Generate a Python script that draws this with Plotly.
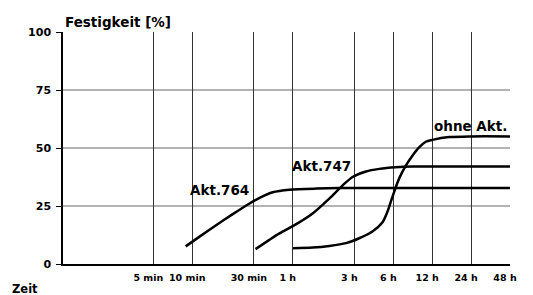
import math
import plotly.graph_objects as go

# tick positions (minutes) and labels
tick_vals = [5, 10, 30, 60, 180, 360, 720, 1440, 2880]
tick_text = ["5 min", "10 min", "30 min", "1 h", "3 h", "6 h", "12 h", "24 h", "48 h"]
y_ticks = [0, 25, 50, 75, 100]

# series: time in minutes, strength in %
t_764 = [8.9, 11.4, 15.4, 20.6, 27.8, 33.2, 42, 56.5, 91, 180, 2880]
v_764 = [7.6, 11.8, 16.8, 21.5, 26.1, 28.5, 30.9, 32.0, 32.5, 32.8, 32.8]

t_747 = [30.9, 47.3, 60, 85.5, 115, 146, 174, 221, 280, 376, 506, 2880]
v_747 = [6.4, 13.2, 16.3, 21.8, 28.2, 33.9, 37.5, 39.9, 41.0, 41.7, 42.0, 42.0]

t_ohne = [60, 85.5, 115, 155, 196, 248, 297, 324, 344, 365, 399, 450, 506, 570, 642, 722, 970, 1436, 2880]
v_ohne = [6.8, 7.1, 7.8, 9.0, 11.1, 14.0, 18.0, 22.5, 26.8, 31.0, 36.8, 42.4, 46.7, 50.3, 52.7, 53.5, 54.7, 55.0, 55.0]

labels = ["Akt.764", "Akt.747", "ohne Akt."]
label_t = [16.4, 101, 1436]
label_v = [31.8, 42.3, 59.7]

FONT = "DejaVu Sans"

fig = go.Figure()
for t, v in [(t_764, v_764), (t_747, v_747), (t_ohne, v_ohne)]:
    fig.add_trace(go.Scatter(x=t, y=v, mode="lines",
                             line=dict(color="black", width=2.5, shape="spline", smoothing=0.7),
                             showlegend=False, hoverinfo="skip"))

for lab, lt, lv in zip(labels, label_t, label_v):
    fig.add_annotation(x=math.log10(lt), y=lv, xref="x", yref="y", text=lab, showarrow=False,
                       font=dict(family=FONT, size=13.5, color="black", weight="bold"),
                       xanchor="center", yanchor="middle")

for yv in [25, 50, 75]:
    fig.add_shape(type="line", xref="paper", yref="y", x0=0, x1=1, y0=yv, y1=yv,
                  line=dict(color="#666666", width=1), layer="below")

fig.add_annotation(x=0, y=1.0, xref="paper", yref="paper", text="Festigkeit [%]", showarrow=False,
                   font=dict(family=FONT, size=13.5, color="black", weight="bold"),
                   xanchor="left", yanchor="bottom", yshift=0)
fig.add_annotation(x=-0.118, y=0, xref="paper", yref="paper", text="Zeit", showarrow=False,
                   font=dict(family=FONT, size=11.5, color="black", weight="bold"),
                   xanchor="left", yanchor="top", yshift=-16)

fig.update_layout(
    width=525, height=287,
    margin=dict(l=55, r=23, t=24, b=29),
    paper_bgcolor="white", plot_bgcolor="white",
    font=dict(family=FONT, size=10, color="black", weight="bold"),
    xaxis=dict(type="log", range=[0, math.log10(2880)], tickvals=tick_vals, ticktext=tick_text,
               showgrid=True, gridcolor="#333333", gridwidth=1,
               showline=True, linecolor="black", linewidth=2, mirror=False,
               ticks="", zeroline=False, ticklabelshift=-5, ticklabelstandoff=4,
               tickfont=dict(family=FONT, size=9.5, weight="bold")),
    yaxis=dict(range=[0, 100], tickvals=y_ticks, showgrid=False,
               showline=True, linecolor="black", linewidth=1.5,
               ticks="outside", ticklen=5, tickcolor="black", zeroline=False,
               ticklabelstandoff=3,
               tickfont=dict(family=FONT, size=11, weight="bold")),
)

fig.write_html("out.html")
